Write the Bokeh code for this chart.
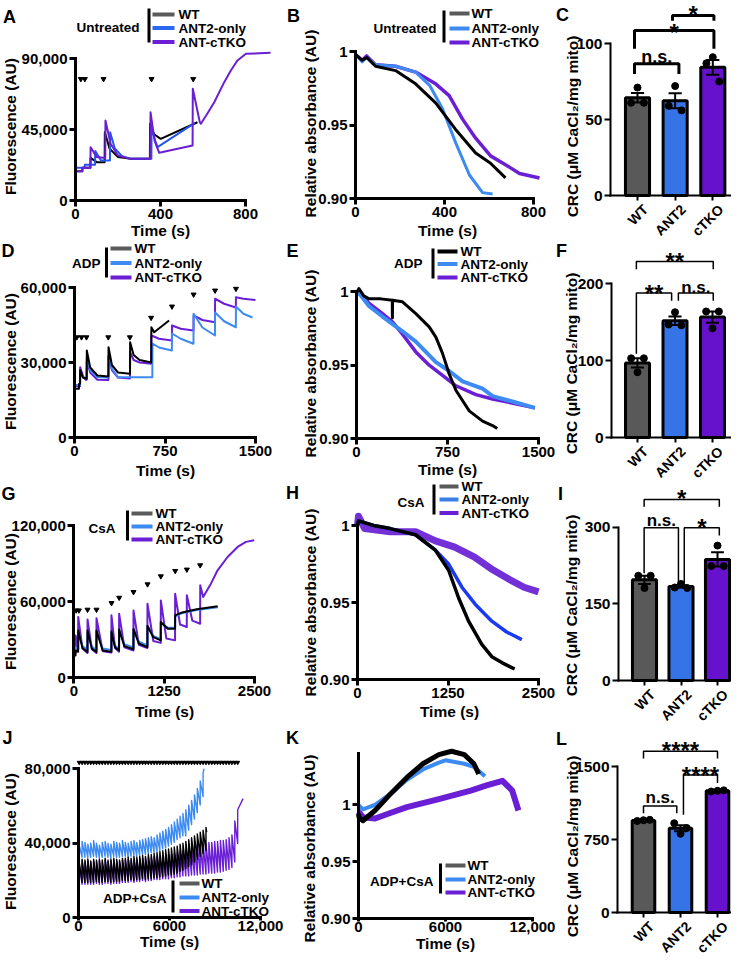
import math
from bokeh.plotting import figure
from bokeh.models import Range1d, FixedTicker, Label, CustomJSTickFormatter
from bokeh.layouts import row, column
from bokeh.embed import file_html
from bokeh.resources import INLINE

FONT = "Liberation Sans"

GROUPS = ["WT", "ANT2-only", "ANT-cTKO"]
BAR_CATS = ["WT", "ANT2", "cTKO"]
CRC_LABEL = "CRC (μM CaCl₂/mg mito)"

# ---------------- A : Untreated, fluorescence ----------------
A_wt_t = [0, 32, 33, 70, 71, 100, 137, 138, 160, 200, 260, 350, 351, 370, 401, 574]
A_wt_v = [18600, 18600, 20700, 20700, 27000, 24300, 24300, 43300, 33000, 27500, 26400, 26400, 48600, 42000, 39100, 49600]
A_blue_t = [0, 43, 44, 92, 93, 120, 162, 163, 185, 220, 260, 357, 358, 375, 386, 560]
A_blue_v = [20700, 20700, 22600, 22600, 31300, 25400, 25400, 43300, 33000, 28000, 26400, 26400, 46500, 38000, 33800, 49000]
A_cko_t = [0, 32, 33, 70, 71, 100, 140, 141, 165, 200, 260, 352, 353, 372, 394, 551, 552, 585, 590, 620, 653, 700, 731, 762, 802, 918]
A_cko_v = [18600, 18600, 20700, 20700, 33800, 27500, 27000, 50700, 36000, 28500, 26400, 26400, 56000, 38000, 30200, 34900, 70800, 49600, 48600, 55000, 62300, 75000, 82400, 88700, 93000, 93600]
A_add_t = [25, 44, 132, 358, 554]
A_add_v = [77000, 77000, 77000, 77000, 77000]

# ---------------- B : Untreated, absorbance ----------------
B_wt_t = [0, 30, 50, 90, 180, 270, 360, 450, 540, 607, 674]
B_wt_v = [0.998, 0.994, 0.996, 0.990, 0.987, 0.978, 0.965, 0.947, 0.931, 0.924, 0.914]
B_blue_t = [0, 30, 50, 90, 180, 270, 333, 391, 450, 512, 571, 616]
B_blue_v = [0.998, 0.993, 0.996, 0.991, 0.990, 0.986, 0.977, 0.961, 0.938, 0.916, 0.904, 0.903]
B_cko_t = [0, 30, 50, 90, 180, 270, 360, 421, 481, 540, 607, 674, 737, 827]
B_cko_v = [0.998, 0.994, 0.997, 0.991, 0.990, 0.986, 0.978, 0.970, 0.954, 0.941, 0.929, 0.923, 0.917, 0.914]

# ---------------- C : Untreated CRC ----------------
C_mean = [64.3, 62.3, 84.3]
C_sem = [3.1, 4.9, 4.8]
C_pts = [[71, 61, 61], [72, 59, 56], [91, 87, 75]]

# ---------------- D : ADP, fluorescence ----------------
D_wt_t = [0, 37, 38, 46, 47, 70, 101, 102, 130, 190, 281, 282, 310, 360, 460, 461, 490, 540, 636, 637, 660, 784]
D_wt_v = [19500, 19500, 21500, 21500, 27000, 24000, 23500, 34800, 28000, 24800, 24400, 36100, 29000, 26000, 25500, 38100, 33000, 31000, 30000, 44100, 42100, 46800]
D_blue_t = [0, 46, 47, 75, 101, 102, 130, 190, 281, 282, 310, 360, 645, 646, 700, 807, 808, 880, 986, 987, 1060, 1164, 1165, 1240, 1337, 1338, 1400, 1475]
D_blue_v = [21000, 21000, 25000, 24000, 23800, 31600, 27000, 24100, 24000, 32800, 27500, 24100, 24100, 37600, 36000, 34800, 41600, 39500, 37500, 49500, 44000, 40800, 50000, 46500, 44100, 52400, 49500, 48000]
D_cko_t = [0, 46, 47, 75, 94, 101, 102, 130, 190, 281, 282, 310, 360, 460, 461, 490, 540, 636, 637, 700, 807, 808, 880, 986, 987, 1060, 1164, 1165, 1240, 1337, 1338, 1400, 1500]
D_cko_v = [20500, 20500, 28100, 24000, 23100, 23100, 30500, 26000, 23100, 23000, 32100, 27000, 24000, 23600, 34100, 31000, 30000, 29500, 40800, 39500, 38800, 44800, 43500, 42800, 48800, 47000, 46100, 55500, 53500, 52000, 56100, 55500, 55000]
D_add_t = [19, 58, 99, 280, 459, 635, 808, 987, 1165, 1338]
D_add_v = [40100, 40100, 40100, 40100, 40100, 47900, 52400, 57200, 58800, 59500]

# ---------------- E : ADP, absorbance ----------------
E_wt_t = [0, 20, 60, 104, 200, 295, 296, 297, 379, 489, 599, 654, 709, 764, 819, 929, 1039, 1121, 1160]
E_wt_v = [0.999, 1.002, 0.997, 0.995, 0.995, 0.994, 0.982, 0.994, 0.993, 0.985, 0.976, 0.969, 0.958, 0.944, 0.933, 0.919, 0.912, 0.909, 0.907]
E_blue_t = [0, 20, 104, 214, 379, 489, 654, 764, 874, 1039, 1121, 1300, 1470]
E_blue_v = [0.998, 0.999, 0.990, 0.983, 0.973, 0.966, 0.952, 0.946, 0.939, 0.934, 0.929, 0.925, 0.921]
E_cko_t = [0, 20, 104, 214, 300, 379, 489, 599, 709, 819, 984, 1121, 1300, 1470]
E_cko_v = [0.998, 0.999, 0.992, 0.985, 0.979, 0.971, 0.959, 0.950, 0.943, 0.936, 0.930, 0.927, 0.924, 0.921]

# ---------------- F : ADP CRC ----------------
F_mean = [97.0, 152.0, 156.7]
F_sem = [6.0, 5.5, 7.3]
F_pts = [[85, 103, 103], [163, 147, 146], [142, 164, 164]]

# ---------------- G : CsA, fluorescence ----------------
G_wt_t = [0, 24, 25, 60, 61, 120, 189, 190, 250, 313, 314, 400, 520, 521, 570, 626, 627, 700, 825, 826, 900, 1018, 1019, 1100, 1203, 1204, 1300, 1401, 1402, 1500, 1700, 1990]
G_wt_v = [17600, 17600, 21500, 20500, 37300, 23500, 20300, 37300, 23000, 20300, 37300, 21500, 20500, 36500, 24000, 21500, 38000, 25000, 22500, 38500, 27000, 24200, 41000, 32000, 29500, 44000, 38700, 38700, 49200, 51500, 54000, 56300]
G_blue_t = [0, 24, 25, 60, 61, 120, 189, 190, 250, 313, 314, 400, 520, 521, 570, 626, 627, 700, 825, 826, 900, 1018, 1019, 1100, 1203, 1204, 1300, 1401, 1402, 1500, 1700, 1995]
G_blue_v = [21600, 21600, 24000, 22500, 36500, 25000, 22000, 36000, 24500, 22000, 36500, 23000, 22000, 36000, 25500, 23000, 37500, 26500, 24000, 38000, 28500, 25500, 40500, 33000, 30500, 43000, 39500, 39500, 48500, 51000, 53500, 55600]
G_cko_t = [0, 24, 25, 60, 61, 120, 189, 190, 250, 313, 314, 400, 520, 521, 570, 626, 627, 700, 825, 826, 900, 1018, 1019, 1100, 1203, 1204, 1280, 1401, 1402, 1470, 1563, 1564, 1640, 1748, 1749, 1790, 1804, 1897, 1989, 2127, 2266, 2381, 2496]
G_cko_v = [19500, 19500, 33400, 22000, 47900, 23000, 19500, 46000, 22500, 19500, 47000, 21000, 20000, 49200, 23500, 20500, 50500, 24000, 21500, 53100, 26000, 23500, 58400, 29000, 27500, 61000, 31000, 29500, 66300, 42000, 40000, 65000, 45000, 42600, 72900, 63700, 65000, 74200, 84700, 95200, 103100, 107100, 108400]
G_add_t = [33, 70, 190, 314, 522, 628, 826, 1020, 1204, 1403, 1564, 1748]
G_add_v = [53100, 53100, 53700, 53700, 58900, 63100, 67600, 73700, 80000, 84200, 85300, 88700]

# ---------------- H : CsA, absorbance ----------------
H_wt_t = [0, 14, 223, 452, 801, 1076, 1259, 1397, 1534, 1717, 1855, 2000, 2170]
H_wt_v = [1.0, 1.003, 1.0, 0.998, 0.994, 0.984, 0.971, 0.953, 0.938, 0.923, 0.915, 0.911, 0.907]
H_blue_t = [0, 14, 223, 452, 801, 1076, 1259, 1442, 1625, 1855, 2060, 2270]
H_blue_v = [1.0, 1.003, 1.0, 0.998, 0.994, 0.984, 0.975, 0.960, 0.949, 0.938, 0.931, 0.926]
H_cko_t = [0, 14, 100, 452, 801, 1076, 1343, 1616, 1844, 2100, 2300, 2500]
H_cko_v = [1.0, 1.006, 0.998, 0.996, 0.996, 0.990, 0.986, 0.9795, 0.972, 0.965, 0.960, 0.957]

# ---------------- I : CsA CRC ----------------
I_mean = [197.0, 184.0, 237.0]
I_sem = [8.0, 2.5, 13.8]
I_pts = [[181, 205, 205], [189, 182, 181], [264, 224, 224]]

# ---------------- J : ADP+CsA, fluorescence (sawtooth per addition) ----------------
J_add_t = [45, 235, 425, 615, 805, 995, 1185, 1375, 1565, 1755, 1945, 2135, 2325, 2515,
           2705, 2895, 3085, 3275, 3465, 3655, 3845, 4035, 4225, 4415, 4605, 4795, 4985,
           5175, 5365, 5555, 5745, 5935, 6125, 6315, 6505, 6695, 6885, 7075, 7265, 7455,
           7645, 7835, 8025, 8215, 8405, 8595, 8785, 8975, 9165, 9355, 9545, 9735, 9925,
           10115, 10305, 10495]
J_add_v = [83400] * 56
J_wt_trough = [16500, 19000, 19000, 19000, 19000, 19000, 19500, 19000, 19000, 19500, 19500, 19000, 19500, 19500, 19500, 20000,
               20000, 20000, 20500, 20000, 20500, 20500, 21000, 20500, 21000, 21000,
               21500, 21500, 22000, 22000, 22500, 23000, 23000,
               23500, 24000, 25000, 25500, 26500, 27500,
               28500, 30000, 31500, 33000, 34500, 36000]
J_wt_peak = [30000, 31500, 31000, 31500, 30500, 31500, 31000, 31500, 31000, 32000, 31000, 31500, 32000, 31500, 31000, 32000,
             32000, 32500, 32000, 33000, 32500, 33000, 33500, 33000, 34000, 34000,
             34500, 35000, 35500, 36000, 36500, 37000, 37500,
             38000, 38500, 39500, 40000, 41000, 42000,
             43000, 44000, 45000, 46000, 47000, 48500]
J_wt_start = (0, 16000)
J_wt_end = (8450, 46000)
J_blue_trough = [30000, 32500, 32500, 32000, 32500, 33000, 32500, 32000, 32500, 33000, 32500, 32000, 33000, 32500, 32500, 33000, 33000, 32500, 33000, 33500, 33000, 33500,
                 34000, 34000, 34500, 35000, 35000,
                 35500, 36000, 37000, 37500, 38500,
                 39500, 40500, 42000, 43000,
                 44000,
                 44000, 47000, 50000, 53000, 56500, 60500, 65000]
J_blue_peak = [39000, 41000, 40500, 39500, 40000, 41500, 40000, 39000, 40500, 41000, 40000, 39500, 41000, 40500, 40000, 41500, 40500, 40000, 41000, 41500, 40500, 41500,
               42000, 42500, 43000, 43500, 43000,
               44500, 45500, 46500, 47500, 48500,
               50000, 51500, 53000, 54500,
               56000,
               58000, 60500, 63000, 66000, 69500, 73500, 78000]
J_blue_start = (0, 28000)
J_blue_end = (8285, 80000)
J_cko_trough = [16000, 18000, 18000, 18000, 18000, 18000, 18500, 18000, 18000, 18500, 18500, 18000, 18500, 18500, 18500, 19000, 19000, 19000, 19500, 19000, 19500, 19500, 20000, 19500, 20000, 20000, 20500, 20500, 20500, 21000, 21000, 21000, 21500, 21500,
                22000, 22000, 22500, 22500, 22500, 23000, 23000,
                23000, 23500, 23500, 23500, 24000, 24000, 24000, 24500, 24500, 25000,
                25500, 26000, 27000,
                30000, 40000]
J_cko_peak = [29000, 30500, 30000, 30500, 30000, 30500, 30000, 30500, 30000, 31000, 30000, 30500, 31000, 30500, 30000, 31000, 31000, 31500, 31000, 31500, 31500, 32000, 32000, 32000, 32500, 32500, 33000, 33000, 33500, 33000, 33500, 34000, 34000, 34500,
              35000, 35500, 36000, 36500, 37000, 37500, 38000,
              39000, 39500, 40000, 40000, 40500, 40500, 41000, 41000, 41500, 41500,
              42000, 43000, 44500,
              52000, 58000]
J_cko_start = (0, 15500)
J_cko_end = (10850, 64000)

# ---------------- K : ADP+CsA, absorbance ----------------
K_wt_t = [0, 40, 300, 1140, 2240, 3340, 4440, 5540, 6420, 7300, 7960, 8290]
K_wt_v = [0.992, 0.989, 0.986, 0.995, 1.010, 1.024, 1.036, 1.044, 1.047, 1.044, 1.036, 1.027]
K_blue_t = [0, 300, 1140, 2240, 3340, 4440, 5540, 6000, 7300, 8000, 8720]
K_blue_v = [1.0, 0.996, 1.0, 1.010, 1.022, 1.031, 1.037, 1.039, 1.036, 1.033, 1.025]
K_cko_t = [0, 300, 1140, 2240, 3340, 5540, 7740, 8830, 9930, 10600, 11030]
K_cko_v = [0.994, 0.989, 0.988, 0.993, 0.998, 1.005, 1.0125, 1.017, 1.021, 1.0125, 0.995]

# ---------------- L : ADP+CsA CRC ----------------
L_mean = [946.0, 865.0, 1250.0]
L_sem = [4.0, 31.0, 3.5]
L_pts = [[948, 940, 952], [809, 917, 868], [1250, 1243, 1255]]

# ---------------- colours ----------------
BLACK = "#000000"
LEG_GRAY = "#5a5a5a"
BLUE_A = "#2156f0"
BLUE = "#3d8bf2"
BLUE_H = "#1b3af0"
PURPLE = "#6b1fd4"
BAR_FILL = ["#595959", "#3673e6", "#6612cc"]
PT_OFFSETS = [0.0, -0.17, 0.17]
LETTER_FS = 18


class Panel:
    """One sub-figure whose plotting frame fills its whole canvas (page pixel box)."""

    def __init__(self, canvas, xcal, ycal):
        cl, ct, cr, cb = canvas
        xv0, xp0, xv1, xp1 = xcal
        yv0, yp0, yv1, yp1 = ycal
        self.ax = (xv1 - xv0) / (xp1 - xp0)
        self.bx = xv0 - self.ax * xp0
        self.ay = (yv1 - yv0) / (yp1 - yp0)
        self.by = yv0 - self.ay * yp0
        self.canvas = canvas
        p = figure(width=cr - cl, height=cb - ct,
                   x_range=Range1d(self.X(cl), self.X(cr)),
                   y_range=Range1d(self.Y(cb), self.Y(ct)),
                   output_backend="svg", toolbar_location=None,
                   min_border=0, min_border_left=0, min_border_right=0,
                   min_border_top=0, min_border_bottom=0)
        p.outline_line_color = None
        p.xgrid.grid_line_color = None
        p.ygrid.grid_line_color = None
        p.background_fill_color = "white"
        p.border_fill_color = "white"
        self.p = p

    def X(self, px):
        return self.ax * px + self.bx

    def Y(self, py):
        return self.ay * py + self.by

    def px(self, x):
        return (x - self.bx) / self.ax

    def py(self, y):
        return (y - self.by) / self.ay

    def text(self, px, py, s, size=15.5, style="bold", align="center", angle=0.0, color="black"):
        self.p.add_layout(Label(x=self.X(px), y=self.Y(py), text=s, text_font=FONT,
                                text_font_size=f"{size}px", text_font_style=style,
                                text_align=align, text_baseline="middle", angle=angle,
                                text_color=color))

    def seg(self, x0, y0, x1, y1, w, c):
        self.p.segment(x0=[self.X(x0)], y0=[self.Y(y0)], x1=[self.X(x1)], y1=[self.Y(y1)],
                       line_width=w, line_color=c, line_cap="butt")

    def axes(self, xt, xl, yt, yl, xb, yb, xloc, yloc, lw=3, tick=6, fs=15, xfs=None):
        p = self.p
        specs = ((p.xaxis[0], xt, xl, xb, fs if xfs is None else xfs, xloc),
                 (p.yaxis[0], yt, yl, yb, fs, yloc))
        for ax, ticks, labels, bounds, size, loc in specs:
            ax.fixed_location = loc
            ax.ticker = FixedTicker(ticks=ticks, minor_ticks=[])
            ax.formatter = CustomJSTickFormatter(
                args=dict(tv=list(ticks), tl=list(labels)),
                code="for (let i = 0; i < tv.length; i++) { if (Math.abs(tv[i] - tick) < 1e-9 * Math.max(1, Math.abs(tick))) return tl[i]; } return '';")
            if bounds is not None:
                ax.bounds = bounds
            ax.axis_line_width = lw
            ax.axis_line_color = "black"
            ax.axis_line_cap = "square"
            ax.major_tick_line_width = lw
            ax.major_tick_line_color = "black"
            ax.major_tick_out = tick
            ax.major_tick_in = 0
            ax.minor_tick_line_color = None
            ax.major_label_text_font = FONT
            ax.major_label_text_font_style = "bold"
            ax.major_label_text_font_size = f"{size}px"
            ax.major_label_text_color = "black"
            ax.major_label_standoff = 2


def line_panel(canvas, xcal, ycal, xt, xl, yt, yl, xb, yb, fs, letter, letter_pos, ylab, ylab_pos, xlab_pos):
    P = Panel(canvas, xcal, ycal)
    P.axes(xt, xl, yt, yl, xb, yb, yt[0], xt[0], lw=3, tick=6, fs=fs)
    P.text(letter_pos[0], letter_pos[1], letter, size=LETTER_FS)
    P.text(ylab_pos[0], ylab_pos[1], ylab, size=15.5, angle=math.pi / 2)
    P.text(xlab_pos[0], xlab_pos[1], "Time (s)", size=15.5)
    return P


def short_xticks(P):
    ax = P.p.xaxis[0]
    ax.major_tick_out = 3
    ax.major_label_standoff = 0


def legend(P, cond, cond_right, cond_y, bar_x, bar_y0, bar_y1, sx0, sx1, ys, label_x, colors, fs=13.5):
    P.text(cond_right, cond_y, cond, size=fs, align="right")
    P.seg(bar_x, bar_y0, bar_x, bar_y1, 3, "black")
    for y, c, name in zip(ys, colors, GROUPS):
        P.seg(sx0, y, sx1, y, 4, c)
        P.text(label_x, y, name, size=fs, align="left")


def trace(P, t, v, color, w):
    P.p.line(t, v, line_color=color, line_width=w, line_join="round")


def markers(P, t, v, size=5):
    P.p.scatter(t, v, marker="inverted_triangle", size=size, color="black")


def sawtooth(t_add, troughs, peaks, start, end):
    xs, ys = [start[0]], [start[1]]
    for t, lo, hi in zip(t_add, troughs, peaks):
        xs += [t, t]
        ys += [lo, hi]
    xs.append(end[0])
    ys.append(end[1])
    return xs, ys


def bar_panel(canvas, axis_px, xcal, ycal, yt, yl, fs, letter, letter_pos, ylab_pos,
              means, sems, pts, barw, capw, brackets, brk_lw, star_fs, ns_fs, axis_lw=2):
    P = Panel(canvas, xcal, ycal)
    xs = [i + 1 for i in range(len(BAR_CATS))]
    x_axis_left = P.X(axis_px)
    P.axes(xs, ["" for _ in xs], yt, yl, (x_axis_left, P.X(canvas[2])), (yt[0], yt[-1]),
           yt[0], x_axis_left, lw=axis_lw, tick=6, fs=fs, xfs=0)
    P.p.xaxis.major_tick_out = 5
    P.p.vbar(x=xs, top=means, bottom=0, width=barw, fill_color=BAR_FILL,
             line_color="black", line_width=3)
    lo = [m - s for m, s in zip(means, sems)]
    hi = [m + s for m, s in zip(means, sems)]
    P.p.segment(x0=xs, y0=lo, x1=xs, y1=hi, line_width=2, line_color="black")
    P.p.segment(x0=[x - capw / 2 for x in xs], y0=hi, x1=[x + capw / 2 for x in xs], y1=hi,
                line_width=2, line_color="black")
    P.p.segment(x0=[x - capw / 2 for x in xs], y0=lo, x1=[x + capw / 2 for x in xs], y1=lo,
                line_width=2, line_color="black")
    for x, vals in zip(xs, pts):
        P.p.scatter([x + o for o in PT_OFFSETS[:len(vals)]], vals, size=7, color="black")
    for (xl_, xr_, yb_, yl_, yr_, lab, dy) in brackets:
        P.p.line([xl_, xl_, xr_, xr_], [yl_, yb_, yb_, yr_], line_width=brk_lw, line_color="black")
        cx = P.px((xl_ + xr_) / 2)
        cy = P.py(yb_) - dy
        if lab.startswith("*"):
            P.text(cx, cy + 0.235 * star_fs, lab, size=star_fs)
        else:
            P.text(cx, cy, lab, size=ns_fs)
    y_axis_px = P.py(0)
    for x, cat in zip(xs, BAR_CATS):
        P.text(P.px(x) + 8, y_axis_px + 11.5, cat, size=14, align="right", angle=math.pi / 4)
    P.text(letter_pos[0], letter_pos[1], letter, size=LETTER_FS)
    P.text(ylab_pos[0], ylab_pos[1], CRC_LABEL, size=15.5, angle=math.pi / 2)
    return P


# ======================= column 1 =======================
A = line_panel((3, 5, 287, 244), (0, 78, 800, 248), (0, 205, 90000, 63),
               [0, 400, 800], ["0", "400", "800"], [0, 45000, 90000], ["0", "45,000", "90,000"],
               (0, 800), (0, 90000), 15, "A", (12, 21), "Fluorescence (AU)", (12.5, 131), (163, 235))
trace(A, A_wt_t, A_wt_v, BLACK, 2)
trace(A, A_blue_t, A_blue_v, BLUE_A, 2)
trace(A, A_cko_t, A_cko_v, PURPLE, 2)
markers(A, A_add_t, A_add_v)
legend(A, "Untreated", 142, 32, 151.5, 13, 47, 155, 177, [19, 32.5, 46.5], 181, [LEG_GRAY, "#2a68f0", PURPLE])

D = line_panel((3, 244, 287, 485), (0, 77, 1500, 258), (0, 442, 60000, 292),
               [0, 750, 1500], ["0", "750", "1500"], [0, 30000, 60000], ["0", "30,000", "60,000"],
               (0, 1500), (0, 60000), 15, "D", (10.5, 255), "Fluorescence (AU)", (12.5, 366), (168, 475))
trace(D, D_cko_t, D_cko_v, PURPLE, 2)
trace(D, D_blue_t, D_blue_v, BLUE, 2)
trace(D, D_wt_t, D_wt_v, BLACK, 2)
markers(D, D_add_t, D_add_v)
legend(D, "ADP", 103, 268, 109, 252, 282, 113, 134, [253, 267.5, 282], 137, [LEG_GRAY, BLUE, PURPLE])

G = line_panel((3, 485, 287, 728), (0, 76.3, 2500, 257), (0, 682.3, 120000, 530),
               [0, 1250, 2500], ["0", "1250", "2500"], [0, 60000, 120000], ["0", "60,000", "120,000"],
               (0, 2500), (0, 120000), 15, "G", (11, 498), "Fluorescence (AU)", (12.5, 606), (167, 716))
trace(G, G_cko_t, G_cko_v, PURPLE, 2)
trace(G, G_blue_t, G_blue_v, BLUE, 2)
trace(G, G_wt_t, G_wt_v, BLACK, 2)
markers(G, G_add_t, G_add_v)
legend(G, "CsA", 118, 533, 130, 515, 545, 134, 155, [518, 531, 544], 158, [LEG_GRAY, BLUE, PURPLE])

J = line_panel((3, 728, 287, 961), (0, 81, 12000, 263), (0, 922.3, 80000, 773.3),
               [0, 6000, 12000], ["0", "6000", "12,000"], [0, 40000, 80000], ["0", "40,000", "80,000"],
               (0, 12000), (0, 80000), 15, "J", (10, 742), "Fluorescence (AU)", (12.5, 846), (172, 946))
short_xticks(J)
jx, jy = sawtooth(J_add_t, J_cko_trough, J_cko_peak, J_cko_start, J_cko_end)
trace(J, jx, jy, PURPLE, 1.4)
jx, jy = sawtooth(J_add_t, J_blue_trough, J_blue_peak, J_blue_start, J_blue_end)
trace(J, jx, jy, BLUE, 1.4)
jx, jy = sawtooth(J_add_t, J_wt_trough, J_wt_peak, J_wt_start, J_wt_end)
trace(J, jx, jy, BLACK, 1.4)
markers(J, J_add_t, J_add_v, size=4)
legend(J, "ADP+CsA", 169, 903, 175.5, 885, 917, 182, 202, [888, 902, 915.5], 204, [LEG_GRAY, BLUE, PURPLE])

# ======================= column 2 =======================
B = line_panel((287, 5, 558, 244), (0, 358, 800, 536), (0.9, 203, 1.0, 56),
               [0, 400, 800], ["0", "400", "800"], [0.9, 0.95, 1.0], ["0.90", "0.95", "1"],
               (0, 800), (0.9, 1.0), 15, "B", (296, 20), "Relative absorbance (AU)", (313, 128), (450, 235))
trace(B, B_cko_t, B_cko_v, PURPLE, 3.5)
trace(B, B_blue_t, B_blue_v, BLUE, 3)
trace(B, B_wt_t, B_wt_v, BLACK, 3)
legend(B, "Untreated", 439, 33, 446.5, 15, 47, 452, 472, [18, 33, 47], 474, [LEG_GRAY, BLUE, PURPLE])

E = line_panel((287, 244, 558, 483), (0, 359, 1500, 541), (0.9, 443.3, 1.0, 296),
               [0, 750, 1500], ["0", "750", "1500"], [0.9, 0.95, 1.0], ["0.90", "0.95", "1"],
               (0, 1500), (0.9, 1.0), 15, "E", (295, 255), "Relative absorbance (AU)", (313, 368), (450, 473.5))
trace(E, E_cko_t, E_cko_v, PURPLE, 3.5)
trace(E, E_blue_t, E_blue_v, BLUE, 4)
trace(E, E_wt_t, E_wt_v, BLACK, 3)
legend(E, "ADP", 425, 268, 435.5, 253, 283, 440, 460, [256, 268.5, 282], 463, [BLACK, BLUE, PURPLE])

H = line_panel((287, 483, 558, 728), (0, 360, 2500, 541), (0.9, 684.3, 1.0, 530),
               [0, 1250, 2500], ["0", "1250", "2500"], [0.9, 0.95, 1.0], ["0.90", "0.95", "1"],
               (0, 2500), (0.9, 1.0), 15, "H", (295, 497), "Relative absorbance (AU)", (313, 607), (452, 716))
trace(H, H_cko_t, H_cko_v, "#7330d6", 7)
trace(H, H_blue_t, H_blue_v, BLUE_H, 3.5)
trace(H, H_wt_t, H_wt_v, BLACK, 3.5)
legend(H, "CsA", 427, 507, 436.5, 489, 519, 442, 461, [491, 504, 517.5], 464, [LEG_GRAY, "#3a7ee8", PURPLE])

K = line_panel((287, 728, 558, 961), (0, 361, 12000, 535), (0.9, 923.3, 1.0, 809.3),
               [0, 6000, 12000], ["0", "6000", "12,000"], [0.9, 0.95, 1.0], ["0.90", "0.95", "1"],
               (0, 12000), None, 15, "K", (295, 742), "Relative absorbance (AU)", (312, 853), (448, 948))
short_xticks(K)
K.p.yaxis[0].bounds = (0.9, K.Y(757.7))
trace(K, K_cko_t, K_cko_v, PURPLE, 6)
trace(K, K_blue_t, K_blue_v, BLUE, 4)
trace(K, K_wt_t, K_wt_v, BLACK, 5)
legend(K, "ADP+CsA", 436, 886, 443, 868, 898, 448, 468, [870, 884, 897], 470, [LEG_GRAY, BLUE, PURPLE])

# ======================= column 3 =======================
C = bar_panel((558, 5, 734, 245), 613, (1, 640, 3, 715.3), (0, 200, 100, 48),
              [0, 50, 100], ["0", "50", "100"], 15.5, "C", (565, 19), (575, 131),
              C_mean, C_sem, C_pts, 0.64, 0.35,
              [(0.92, 2.1, 86.6, 80, 80, "n.s.", 6.6), (0.92, 3.03, 108.5, 96.5, 96.5, "*", 3.5),
               (1.93, 3.03, 118.4, 115, 115, "*", 7)],
              3, 24, 18)

F = bar_panel((558, 245, 734, 488), 614, (1, 640, 3, 715), (0, 442, 200, 288.3),
              [0, 100, 200], ["0", "100", "200"], 15.5, "F", (564, 255.5), (574, 368),
              F_mean, F_sem, F_pts, 0.64, 0.35,
              [(0.97, 3.02, 229, 219, 219, "**", 5.7), (0.97, 1.91, 188, 109, 178, "**", 5.3),
               (2.09, 3.02, 188, 178, 178, "n.s.", 6)],
              1.5, 24, 17)

I = bar_panel((558, 488, 734, 731), 621, (1, 647, 3, 720), (0, 685, 300, 531.7),
              [0, 150, 300], ["0", "150", "300"], 15.5, "I", (563, 498), (574, 610),
              I_mean, I_sem, I_pts, 0.66, 0.35,
              [(0.99, 3.05, 354, 340, 340, "*", 6.6), (0.99, 1.93, 299, 210, 190, "n.s.", 7.3),
               (2.09, 3.05, 299, 190, 284, "*", 5.6)],
              1.5, 24, 17)

L = bar_panel((558, 731, 734, 961), 620, (1, 646, 3, 720), (0, 917, 1500, 771),
              [0, 750, 1500], ["0", "750", "1500"], 15.5, "L", (564, 743), (575, 851),
              L_mean, L_sem, L_pts, 0.61, 0.35,
              [(1.0, 3.0, 1656, 1582, 1582, "****", 6.7), (2.08, 3.0, 1412, 1005, 1331, "****", 5),
               (1.0, 1.9, 1093, 1020, 1020, "n.s.", 8.6)],
              1.5, 24, 17)

layout = row(column(A.p, D.p, G.p, J.p), column(B.p, E.p, H.p, K.p), column(C.p, F.p, I.p, L.p))
open("out.html", "w").write(file_html(layout, INLINE))
